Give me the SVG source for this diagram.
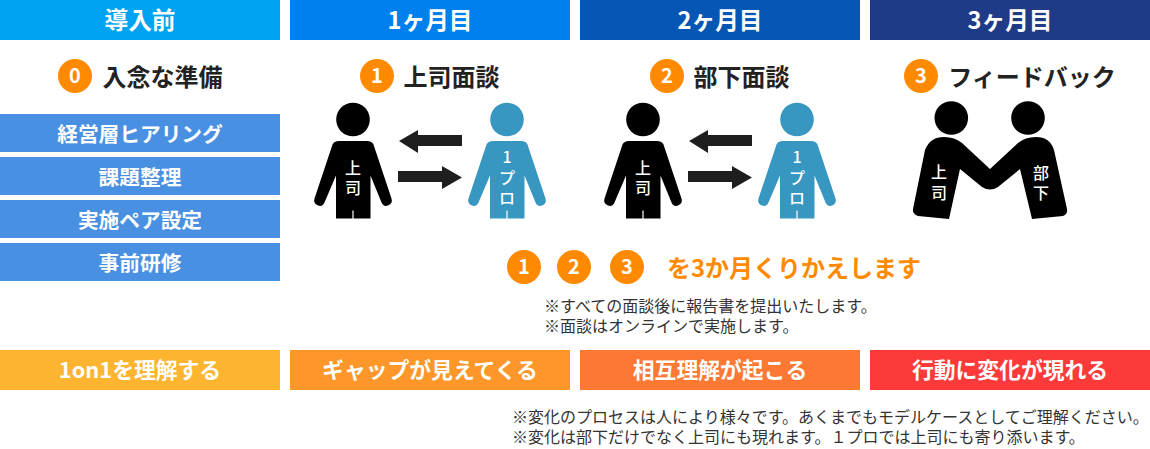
<svg xmlns="http://www.w3.org/2000/svg" width="1150" height="449" viewBox="0 0 1150 449">
<style>
text{font-family:"Noto Sans CJK JP","Noto Sans",sans-serif;text-anchor:middle}
.h{font-size:23.7px;font-weight:700;fill:#fff}
.t{font-size:24px;font-weight:700;fill:#222}
.b{font-size:20.7px;font-weight:700;fill:#fff}
.r{font-size:21.8px;font-weight:700;fill:#fff}
.n{font-size:20px;font-weight:700;fill:#fff}
.c{fill:#ff8a00}
.w{font-size:16px;font-weight:500;fill:#fff}
.s{font-size:16px;font-weight:400;fill:#333;text-anchor:start}
.dark{fill:#000}.blue{fill:#3797c0}
.arrow{fill:#1d1e1d}
</style>
<defs>
<g id="person">
<circle cx="0" cy="0" r="16.8"/>
<path d="M-14 21.5H14Q19 21.5 20.5 25L38.5 79Q40 84 35 86 30.5 87.5 28.5 83L17.5 56V99H0.6V91H-0.6V99H-17V56L-28.5 83Q-30.5 87.5 -35 86 -40 84 -38.5 79L-20.5 25Q-19 21.5 -14 21.5Z"/>
</g>
</defs>
<g id="header-0"><rect x="0" y="0" width="280" height="40" fill="#00a2f2"/><text class="h" x="140" y="29">導入前</text></g>
<g id="header-1"><rect x="290" y="0" width="280" height="40" fill="#0080ee"/><text class="h" x="430" y="29">1ヶ月目</text></g>
<g id="header-2"><rect x="580" y="0" width="280" height="40" fill="#0656b4"/><text class="h" x="720" y="29">2ヶ月目</text></g>
<g id="header-3"><rect x="870" y="0" width="280" height="40" fill="#1f3a87"/><text class="h" x="1010" y="29">3ヶ月目</text></g>
<g id="title-0"><circle class="c" cx="75" cy="76" r="17"/><text class="n" x="75" y="83">0</text><text class="t" x="162.5" y="86">入念な準備</text></g>
<g id="title-1"><circle class="c" cx="377" cy="76" r="17"/><text class="n" x="377" y="83">1</text><text class="t" x="451.5" y="86">上司面談</text></g>
<g id="title-2"><circle class="c" cx="667" cy="76" r="17"/><text class="n" x="667" y="83">2</text><text class="t" x="741.5" y="86">部下面談</text></g>
<g id="title-3"><circle class="c" cx="921" cy="76" r="17"/><text class="n" x="921" y="83">3</text><text class="t" x="1032" y="86">フィードバック</text></g>
<g id="task-1"><rect x="0" y="114" width="280" height="38" fill="#4a90e2"/><text class="b" x="140" y="142">経営層ヒアリング</text></g>
<g id="task-2"><rect x="0" y="157" width="280" height="38" fill="#4a90e2"/><text class="b" x="140" y="185">課題整理</text></g>
<g id="task-3"><rect x="0" y="200" width="280" height="38" fill="#4a90e2"/><text class="b" x="140" y="228">実施ペア設定</text></g>
<g id="task-4"><rect x="0" y="243" width="280" height="38" fill="#4a90e2"/><text class="b" x="140" y="271">事前研修</text></g>
<g id="boss-1"><use href="#person" x="353" y="119.5" class="dark"/><text class="w"><tspan x="353" y="173.5">上</tspan><tspan x="353" y="194">司</tspan></text></g>
<g id="pro-1"><use href="#person" x="507" y="119.5" class="blue"/><text class="w"><tspan x="507" y="163">1</tspan><tspan x="507" y="184">プ</tspan><tspan x="507" y="204">ロ</tspan></text></g>
<g id="boss-2"><use href="#person" x="643" y="119.5" class="dark"/><text class="w"><tspan x="643" y="173.5">上</tspan><tspan x="643" y="194">司</tspan></text></g>
<g id="pro-2"><use href="#person" x="797" y="119.5" class="blue"/><text class="w"><tspan x="797" y="163">1</tspan><tspan x="797" y="184">プ</tspan><tspan x="797" y="204">ロ</tspan></text></g>
<g id="handshake">
<circle cx="951.3" cy="118" r="16.8"/><circle cx="1028" cy="118" r="16.8"/>
<path d="M913 209L925 150Q930 137 944 137 955 137 962 143L990 169 1018 143Q1025 137 1036 137 1050 137 1054 150L1067 209Q1068 214 1063 216L1032 219 1020 169 998 187Q990 192 982 187L960 169 949 219 918 216Q912 214 913 209Z"/>
<text class="w"><tspan x="939" y="177.5">上</tspan><tspan x="939" y="198.5">司</tspan></text><text class="w"><tspan x="1041" y="178.5">部</tspan><tspan x="1041" y="199">下</tspan></text>
</g>
<g id="connectors">
<path class="arrow" d="M462 135V146H418V153L399 141 418 130V135Z"/>
<path class="arrow" d="M398 171H442V166L462 177.5 442 189V182H398Z"/>
<path class="arrow" d="M752 135V146H708V153L689 141 708 130V135Z"/>
<path class="arrow" d="M688 171H732V166L752 177.5 732 189V182H688Z"/>
</g>
<g id="repeat">
<circle class="c" cx="524" cy="267" r="17"/><text class="n" x="524" y="274">1</text>
<circle class="c" cx="574" cy="267" r="17"/><text class="n" x="574" y="274">2</text>
<circle class="c" cx="627" cy="267" r="17"/><text class="n" x="627" y="274">3</text>
<text x="794" y="277" font-size="24" font-weight="700" fill="#ff8a00">を3か月くりかえします</text>
</g>
<g id="notes-1"><text class="s"><tspan x="544" y="312">※すべての面談後に報告書を提出いたします。</tspan><tspan x="544" y="332">※面談はオンラインで実施します。</tspan></text></g>
<g id="result-0"><rect x="0" y="350" width="280" height="40" fill="#fdb52f"/><text class="r" x="140" y="378">1on1を理解する</text></g>
<g id="result-1"><rect x="290" y="350" width="280" height="40" fill="#fd9729"/><text class="r" x="430" y="378">ギャップが見えてくる</text></g>
<g id="result-2"><rect x="580" y="350" width="280" height="40" fill="#fd7833"/><text class="r" x="720" y="378">相互理解が起こる</text></g>
<g id="result-3"><rect x="870" y="350" width="280" height="40" fill="#fd3a3a"/><text class="r" x="1010" y="378">行動に変化が現れる</text></g>
<g id="notes-2"><text class="s"><tspan x="512" y="423">※変化のプロセスは人により様々です。あくまでもモデルケースとしてご理解ください。</tspan><tspan x="512" y="443">※変化は部下だけでなく上司にも現れます。１プロでは上司にも寄り添います。</tspan></text></g>
</svg>
